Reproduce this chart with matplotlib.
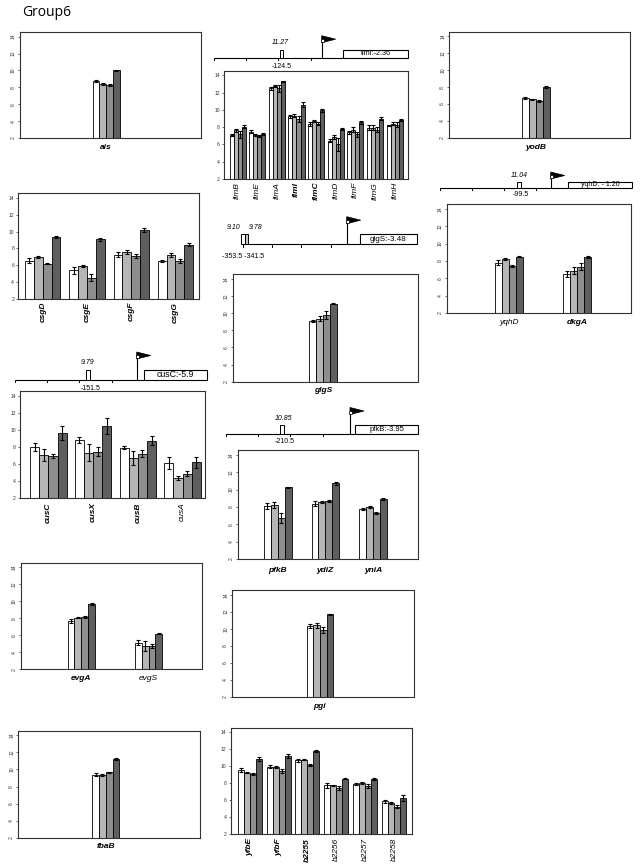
import numpy as np
import matplotlib
matplotlib.use("Agg")
import matplotlib.pyplot as plt
from matplotlib.patches import Rectangle, Polygon

plt.rcParams['font.family'] = ['Liberation Sans', 'DejaVu Sans']

# ---------------- data ----------------
ais_genes = ['ais']
ais_vals = [[8.8, 8.4, 8.25, 10.0]]
ais_errs = [[0.12, 0.08, 0.10, 0.10]]
ais_bold = [True]

fim_genes = ['fimB', 'fimE', 'fimA', 'fimI', 'fimC', 'fimD', 'fimF', 'fimG', 'fimH']
fim_vals = [[7.1, 7.65, 7.2, 8.05], [7.5, 7.1, 7.0, 7.2], [12.5, 12.8, 12.5, 13.3],
            [9.25, 9.35, 8.95, 10.6], [8.35, 8.7, 8.4, 9.95], [6.45, 6.85, 6.0, 7.8],
            [7.4, 7.7, 7.2, 8.55], [7.95, 7.95, 7.7, 9.0], [8.2, 8.4, 8.3, 8.8]]
fim_errs = [[0.15, 0.2, 0.4, 0.15], [0.15, 0.15, 0.1, 0.1], [0.15, 0.1, 0.4, 0.1],
            [0.2, 0.2, 0.3, 0.3], [0.2, 0.15, 0.15, 0.2], [0.2, 0.2, 0.8, 0.15],
            [0.2, 0.3, 0.3, 0.2], [0.25, 0.25, 0.3, 0.2], [0.1, 0.15, 0.3, 0.1]]
fim_bold = [False, False, False, True, True, False, False, False, False]

yodB_genes = ['yodB']
yodB_vals = [[6.7, 6.55, 6.35, 8.05]]
yodB_errs = [[0.1, 0.1, 0.12, 0.12]]
yodB_bold = [True]

yqhD_genes = ['yqhD', 'dkgA']
yqhD_vals = [[7.8, 8.25, 7.45, 8.5], [6.45, 6.85, 7.35, 8.45]]
yqhD_errs = [[0.3, 0.1, 0.1, 0.1], [0.35, 0.4, 0.45, 0.1]]
yqhD_bold = [False, True]

csg_genes = ['csgD', 'csgE', 'csgF', 'csgG']
csg_vals = [[6.55, 7.02, 6.2, 9.4], [5.4, 5.88, 4.55, 9.08], [7.25, 7.6, 7.15, 10.15], [6.5, 7.25, 6.5, 8.45]]
csg_errs = [[0.3, 0.1, 0.1, 0.12], [0.45, 0.1, 0.45, 0.15], [0.3, 0.25, 0.25, 0.25], [0.15, 0.25, 0.2, 0.2]]
csg_bold = [True, True, True, True]

glgS_genes = ['glgS']
glgS_vals = [[9.08, 9.35, 9.75, 11.08]]
glgS_errs = [[0.12, 0.25, 0.5, 0.05]]
glgS_bold = [True]

cus_genes = ['cusC', 'cusX', 'cusB', 'cusA']
cus_vals = [[7.98, 7.1, 6.93, 9.6], [8.8, 7.35, 7.45, 10.45], [7.92, 6.75, 7.2, 8.75], [6.1, 4.4, 4.88, 6.2]]
cus_errs = [[0.5, 0.7, 0.2, 0.8], [0.35, 1.0, 0.5, 0.9], [0.15, 0.8, 0.4, 0.5], [0.7, 0.25, 0.3, 0.6]]
cus_bold = [True, True, True, False]

pfkB_genes = ['pfkB', 'ydiZ', 'yniA']
pfkB_vals = [[8.1, 8.2, 6.75, 10.25], [8.35, 8.55, 8.7, 10.7], [7.75, 7.95, 7.3, 8.95]]
pfkB_errs = [[0.3, 0.35, 0.6, 0.05], [0.3, 0.1, 0.15, 0.15], [0.15, 0.1, 0.1, 0.1]]
pfkB_bold = [True, True, True]

evg_genes = ['evgA', 'evgS']
evg_vals = [[7.65, 8.05, 8.15, 9.65], [5.15, 4.75, 4.78, 6.2]]
evg_errs = [[0.25, 0.05, 0.15, 0.1], [0.3, 0.6, 0.25, 0.05]]
evg_bold = [True, False]

pgi_genes = ['pgi']
pgi_vals = [[10.3, 10.42, 9.85, 11.72]]
pgi_errs = [[0.25, 0.3, 0.35, 0.05]]
pgi_bold = [True]

fbaB_genes = ['fbaB']
fbaB_vals = [[9.4, 9.33, 9.65, 11.25]]
fbaB_errs = [[0.2, 0.1, 0.1, 0.1]]
fbaB_bold = [True]

yfb_genes = ['yfbE', 'yfbF', 'b2255', 'b2256', 'b2257', 'b2258']
yfb_vals = [[9.6, 9.25, 9.1, 10.85], [9.95, 9.9, 9.48, 11.2], [10.68, 10.77, 10.18, 11.78],
            [7.73, 7.77, 7.42, 8.55], [7.92, 8.0, 7.68, 8.5], [5.86, 5.7, 5.22, 6.25]]
yfb_errs = [[0.25, 0.1, 0.15, 0.2], [0.2, 0.15, 0.25, 0.25], [0.2, 0.05, 0.1, 0.1],
            [0.25, 0.05, 0.2, 0.1], [0.1, 0.15, 0.25, 0.15], [0.15, 0.1, 0.2, 0.35]]
yfb_bold = [True, True, True, False, False, False]

yticks = [2, 4, 6, 8, 10, 12, 14]

# promoter diagrams: site values, site positions, gene annotations
fim_site_vals = ['11.27']
fim_site_pos = [-124.5]
fim_box_text = 'fimI:-2.36'
yqhD_site_vals = ['11.04']
yqhD_site_pos = [-99.5]
yqhD_box_text = 'yqhD: - 1.20'
glgS_site_vals = ['9.10', '9.78']
glgS_site_pos = [-353.5, -341.5]
glgS_box_text = 'glgS:-3.48'
cus_site_vals = ['9.79']
cus_site_pos = [-151.5]
cus_box_text = 'cusC:-5.9'
pfkB_site_vals = ['10.85']
pfkB_site_pos = [-210.5]
pfkB_box_text = 'pfkB:-3.95'

# ---------------- drawing ----------------
W, H = 640, 865
COLORS = ['#ffffff', '#b6b6b6', '#8e8e8e', '#5f5f5f']
FRAME = '#333333'

fig = plt.figure(figsize=(W / 100, H / 100), dpi=100)
fig.patch.set_facecolor('white')


def make_axes(x0, y0, x1, y1):
    return fig.add_axes([x0 / W, 1 - y1 / H, (x1 - x0) / W, (y1 - y0) / H])


def bar_panel(rect, xlim, bw, genes, vals, errs, bold, rot_labels, rot_ticks, label_pad):
    ax = make_axes(*rect)
    vals = np.array(vals)
    errs = np.array(errs)
    x = np.arange(len(genes))
    for j in range(4):
        ax.bar(x + (j - 1.5) * bw, vals[:, j], bw, color=COLORS[j], edgecolor='black',
               linewidth=0.6, yerr=errs[:, j],
               error_kw=dict(elinewidth=0.8, capsize=1.3, capthick=0.8, ecolor='black'))
    ax.set_ylim(2, 14.55)
    ax.set_xlim(*xlim)
    ax.set_yticks(yticks)
    ax.set_yticklabels([str(t) for t in yticks])
    ax.set_xticks(x)
    ax.set_xticklabels(genes, rotation=90 if rot_labels else 0, fontstyle='italic', fontsize=6)
    for lbl, b in zip(ax.get_xticklabels(), bold):
        lbl.set_fontweight('bold' if b else 'normal')
    ax.tick_params(axis='x', length=0, pad=label_pad)
    ax.tick_params(axis='y', labelsize=3.6, length=1.8, width=0.5, pad=1.2,
                   labelrotation=90 if rot_ticks else 0, colors='#333333')
    if rot_ticks:
        for lbl in ax.get_yticklabels():
            lbl.set_va('center')
    for s in ax.spines.values():
        s.set_color(FRAME)
        s.set_linewidth(0.8)
    return ax


bar_panel((20, 32, 201, 138), (-2.53, 2.78), 0.2, ais_genes, ais_vals, ais_errs, ais_bold, False, True, 4.5)
bar_panel((224, 70.7, 407.7, 179), (-0.69, 8.66), 0.205, fim_genes, fim_vals, fim_errs, fim_bold, True, False, 2.0)
bar_panel((449.3, 31.7, 630, 138), (-2.5, 2.72), 0.2, yodB_genes, yodB_vals, yodB_errs, yodB_bold, False, True, 4.0)
bar_panel((446.7, 204, 631, 313), (-0.913, 1.789), 0.1026, yqhD_genes, yqhD_vals, yqhD_errs, yqhD_bold, False, True, 4.5)
bar_panel((18.3, 193.3, 199.3, 299), (-0.553, 3.54), 0.2, csg_genes, csg_vals, csg_errs, csg_bold, True, False, 2.0)
bar_panel((233, 274, 418, 381.7), (-2.63, 2.78), 0.2, glgS_genes, glgS_vals, glgS_errs, glgS_bold, False, True, 4.0)
bar_panel((20, 391, 205, 498.3), (-0.633, 3.5), 0.205, cus_genes, cus_vals, cus_errs, cus_bold, True, False, 3.0)
bar_panel((237.7, 450, 418, 559), (-0.84, 2.945), 0.145, pfkB_genes, pfkB_vals, pfkB_errs, pfkB_bold, False, True, 5.5)
bar_panel((20.7, 562.7, 201.7, 669.3), (-0.9, 1.79), 0.1015, evg_genes, evg_vals, evg_errs, evg_bold, False, True, 4.0)
bar_panel((232.3, 590, 414, 697), (-2.63, 2.82), 0.2, pgi_genes, pgi_vals, pgi_errs, pgi_bold, False, True, 4.0)
bar_panel((18.3, 730.7, 200, 837.7), (-2.59, 2.79), 0.2, fbaB_genes, fbaB_vals, fbaB_errs, fbaB_bold, False, True, 3.5)
bar_panel((230.7, 727.7, 412, 834), (-0.658, 5.62), 0.208, yfb_genes, yfb_vals, yfb_errs, yfb_bold, True, False, 3.0)

# overlay for the title and promoter diagrams (pixel coordinates)
ov = fig.add_axes([0, 0, 1, 1])
ov.set_xlim(0, W)
ov.set_ylim(H, 0)
ov.axis('off')
ov.patch.set_alpha(0)

ov.text(22, 13, 'Group6', fontsize=10, family=['Open Sans', 'DejaVu Sans'], va='center', ha='left')


def promoter(y, xgene, xend, box_h, flag_x, flag_top, k, site_pos, site_vals, site_label_x,
             pos_text, pos_text_x, pos_dy, box_text, box_fs):
    x0 = xgene - 400 * k
    ov.plot([x0, xgene], [y, y], color='black', lw=0.8, solid_capstyle='butt')
    for i in range(1, 5):
        xt = xgene - 100 * k * i
        ov.plot([xt, xt], [y, y + 2.2], color='black', lw=0.7)
    # gene box
    ov.add_patch(Rectangle((xgene, y - box_h), xend - xgene, box_h, facecolor='white',
                           edgecolor='black', lw=0.8))
    ov.text((xgene + xend) / 2, y - box_h / 2, box_text, fontsize=box_fs, ha='center', va='center')
    # sites
    fills = ['white', '#c8c8c8']
    for i, p in enumerate(site_pos):
        xc = flag_x + p * k
        ov.add_patch(Rectangle((xc - 1.8, y - box_h), 3.6, box_h, facecolor=fills[i % 2],
                               edgecolor='black', lw=0.7, zorder=3))
    for lx, v in zip(site_label_x, site_vals):
        ov.text(lx, y - box_h - 6.5, v, fontsize=5, fontstyle='italic', ha='center', va='center')
    ov.text(pos_text_x, y + pos_dy, pos_text, fontsize=5, ha='center', va='center')
    # flag (TSS)
    ov.plot([flag_x, flag_x], [y, flag_top], color='black', lw=0.8)
    ov.add_patch(Polygon([[flag_x, flag_top - 1], [flag_x + 14, flag_top + 2.5], [flag_x, flag_top + 6]],
                         closed=True, facecolor='black', edgecolor='black', lw=0.5))
    ov.add_patch(Rectangle((flag_x - 1, flag_top + 2), 3.2, 3.2, facecolor='white',
                           edgecolor='black', lw=0.5, zorder=4))


promoter(58, 343, 408, 8.5, 321.7, 36.7, 0.323, fim_site_pos, fim_site_vals, [280.5],
         '-124.5', 282, 8, fim_box_text, 5.2)
promoter(188, 567.7, 632, 6, 550.7, 173, 0.32, yqhD_site_pos, yqhD_site_vals, [519],
         '-99.5', 521, 6, yqhD_box_text, 5.0)
promoter(244.3, 360, 417, 10, 346.7, 217.7, 0.293, glgS_site_pos, glgS_site_vals, [233.3, 255.3],
         '-353.5 -341.5', 243.3, 11.7, glgS_box_text, 5.8)
promoter(380, 144, 206.5, 10.5, 136.7, 353, 0.323, cus_site_pos, cus_site_vals, [88],
         '-151.5', 91, 8, cus_box_text, 6.3)
promoter(434, 355, 418, 9, 350, 408.5, 0.323, pfkB_site_pos, pfkB_site_vals, [283.5],
         '-210.5', 285, 7.7, pfkB_box_text, 5.5)

fig.savefig('out.png', dpi=100, facecolor='white')
